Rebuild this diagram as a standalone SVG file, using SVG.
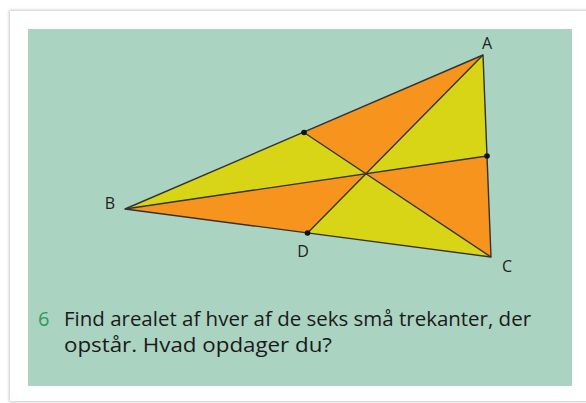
<svg xmlns="http://www.w3.org/2000/svg" width="586" height="403" viewBox="0 0 586 403">
  <defs>
    <filter id="sh" x="-5%" y="-5%" width="110%" height="110%">
      <feGaussianBlur stdDeviation="1.5"/>
    </filter>
  </defs>
  <style>
    .edge{stroke:#333;stroke-width:1.4;fill:none;stroke-linejoin:round}
    .or{fill:#F7941E}
    .ye{fill:#D8D416}
    .dot{fill:#111}
    .lbl{font-family:"Open Sans","Liberation Sans",sans-serif;font-size:16px;fill:#222;text-anchor:middle}
    .txt{font-family:"Open Sans","Liberation Sans",sans-serif;font-size:20px;fill:#1a1a1a}
  </style>
  <rect x="0" y="0" width="586" height="403" fill="#fff"/>
  <rect x="9" y="10" width="600" height="392" fill="#c8c8c8" filter="url(#sh)"/>
  <rect x="10" y="11" width="600" height="390" fill="#fff"/>
  <rect x="28" y="29" width="544" height="357" fill="#ABD3C1"/>
  <g id="triangles">
    <polygon class="or" points="366,173.5 483,55 304,132.5"/>
    <polygon class="ye" points="366,173.5 304,132.5 125,209"/>
    <polygon class="or" points="366,173.5 125,209 307.5,233"/>
    <polygon class="ye" points="366,173.5 307.5,233 491,257"/>
    <polygon class="or" points="366,173.5 491,257 487,156"/>
    <polygon class="ye" points="366,173.5 487,156 483,55"/>
  </g>
  <g id="connectors">
    <polygon class="edge" points="483,55 125,209 491,257"/>
    <line class="edge" x1="483" y1="55" x2="307.5" y2="233"/>
    <line class="edge" x1="125" y1="209" x2="487" y2="156"/>
    <line class="edge" x1="491" y1="257" x2="304" y2="132.5"/>
  </g>
  <g id="A"><text class="lbl" x="487" y="49">A</text></g>
  <g id="B"><text class="lbl" x="110" y="209">B</text></g>
  <g id="C"><text class="lbl" x="507" y="272">C</text></g>
  <g id="D"><circle class="dot" cx="307.5" cy="233" r="2.8"/><text class="lbl" x="303" y="257">D</text></g>
  <g id="midAB"><circle class="dot" cx="304" cy="132.5" r="2.8"/></g>
  <g id="midAC"><circle class="dot" cx="487" cy="156" r="2.8"/></g>
  <g id="task">
    <text class="txt" x="38" y="326" style="fill:#2e9a5a">6</text>
    <text class="txt" x="64" y="326" textLength="467" lengthAdjust="spacingAndGlyphs">Find arealet af hver af de seks små trekanter, der</text>
    <text class="txt" x="64" y="352" textLength="268" lengthAdjust="spacingAndGlyphs">opstår. Hvad opdager du?</text>
  </g>
</svg>
